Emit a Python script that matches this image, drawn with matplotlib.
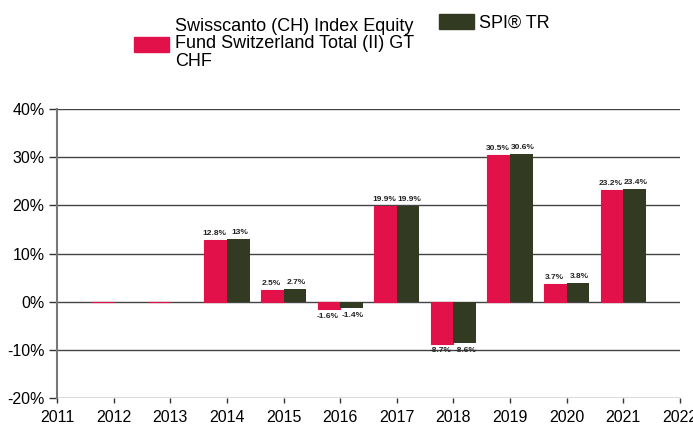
import numpy as np
import matplotlib.pyplot as plt
from matplotlib.patches import Patch

plt.rcParams['font.family'] = ['Liberation Sans', 'DejaVu Sans']

# Data
years = [2012, 2013, 2014, 2015, 2016, 2017, 2018, 2019, 2020, 2021]
fund = [0, 0, 12.8, 2.5, -1.6, 19.9, -8.7, 30.5, 3.7, 23.2]
index = [0, 0, 13.0, 2.7, -1.4, 19.9, -8.6, 30.6, 3.8, 23.4]
fund_labels = ["", "", "12.8%", "2.5%", "-1.6%", "19.9%", "-8.7%", "30.5%", "3.7%", "23.2%"]
index_labels = ["", "", "13%", "2.7%", "-1.4%", "19.9%", "-8.6%", "30.6%", "3.8%", "23.4%"]
fund_name = "Swisscanto (CH) Index Equity\nFund Switzerland Total (II) GT\nCHF"
index_name = "SPI® TR"

red = "#E2114A"
green = "#333A22"

fig = plt.figure(figsize=(6.93, 4.25), dpi=100)
ax = fig.add_axes([57/693, 1 - 398/425, 623/693, 289/425])

x = np.array(years, dtype=float)
w = 0.4
ax.bar(x - w/2, fund, width=w, color=red, edgecolor=red, linewidth=0.8, zorder=3)
ax.bar(x + w/2, index, width=w, color=green, linewidth=0, zorder=3)

# Value labels
for xi, v, lab in zip(x - w/2, fund, fund_labels):
    if lab:
        off = 0.6 if v >= 0 else -0.8
        ax.text(xi - 0.02, v + off, lab, ha="center", va="bottom" if v >= 0 else "top",
                fontsize=6, fontweight="bold", color="#222222", zorder=4)
for xi, v, lab in zip(x + w/2, index, index_labels):
    if lab:
        off = 0.6 if v >= 0 else -0.8
        ax.text(xi + 0.02, v + off, lab, ha="center", va="bottom" if v >= 0 else "top",
                fontsize=6, fontweight="bold", color="#222222", zorder=4)

ax.set_xlim(2011, 2022)
ax.set_ylim(-20, 40)
ax.set_xticks(range(2011, 2023))
ax.set_yticks(range(-20, 41, 10))
ax.set_yticklabels([f"{t}%" for t in range(-20, 41, 10)])
ax.tick_params(labelsize=11.5, length=3.6, color="#333333", width=1)
ax.tick_params(axis="x", pad=5)
ax.tick_params(axis="y", length=6, pad=3)

ax.grid(axis="y", color="#444444", linewidth=1, zorder=1)
for s in ["top", "right", "bottom"]:
    ax.spines[s].set_visible(False)
ax.spines["left"].set_color("#777777")
ax.spines["left"].set_linewidth(1.5)

# Legends
leg1 = fig.legend(handles=[Patch(color=red)], labels=[fund_name],
                  loc="center left", bbox_to_anchor=(134/693, 1 - 44/425),
                  frameon=False, fontsize=13, handlelength=1.95, handleheight=0.9,
                  handletextpad=0.3, borderpad=0, borderaxespad=0)
for t in leg1.get_texts():
    t.set_linespacing(1.05)
fig.legend(handles=[Patch(color=green)], labels=[index_name],
           loc="center left", bbox_to_anchor=(439/693, 1 - 23/425),
           frameon=False, fontsize=13, handlelength=1.95, handleheight=0.9,
           handletextpad=0.25, borderpad=0, borderaxespad=0)

fig.savefig("out.png", dpi=100)
